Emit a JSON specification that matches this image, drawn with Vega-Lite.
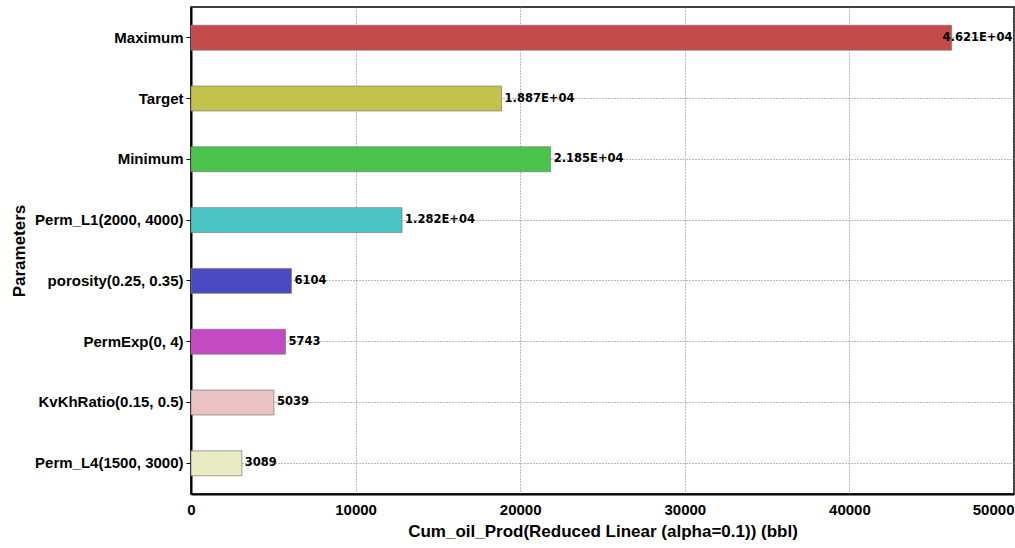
{
  "$schema": "https://vega.github.io/schema/vega-lite/v6.json",
  "width": 823,
  "height": 487,
  "autosize": "none",
  "padding": {"left": 191, "top": 7, "right": 1, "bottom": 54},
  "background": "white",
  "config": {
    "view": {"stroke": "black", "strokeWidth": 1.5},
    "font": "Liberation Sans"
  },
  "data": {
    "values": [
      {"param": "Maximum", "value": 46210, "label": "4.621E+04", "color": "#C44B4B"},
      {"param": "Target", "value": 18870, "label": "1.887E+04", "color": "#C3C24A"},
      {"param": "Minimum", "value": 21850, "label": "2.185E+04", "color": "#4AC34A"},
      {"param": "Perm_L1(2000, 4000)", "value": 12820, "label": "1.282E+04", "color": "#4AC3C3"},
      {"param": "porosity(0.25, 0.35)", "value": 6104, "label": "6104", "color": "#4A4AC3"},
      {"param": "PermExp(0, 4)", "value": 5743, "label": "5743", "color": "#C34AC3"},
      {"param": "KvKhRatio(0.15, 0.5)", "value": 5039, "label": "5039", "color": "#EBC3C3"},
      {"param": "Perm_L4(1500, 3000)", "value": 3089, "label": "3089", "color": "#EBEBC3"}
    ]
  },
  "encoding": {
    "y": {
      "field": "param",
      "type": "nominal",
      "sort": null,
      "scale": {"paddingInner": 0.59, "paddingOuter": 0.3},
      "axis": {
        "title": "Parameters",
        "titleFont": "Liberation Sans",
        "titleFontSize": 17,
        "titleFontWeight": "bold",
        "titleColor": "black",
        "titlePadding": 6,
        "labelFont": "Liberation Sans",
        "labelFontSize": 15,
        "labelFontWeight": "bold",
        "labelColor": "black",
        "labelPadding": 3,
        "tickSize": 5,
        "tickColor": "black",
        "tickBand": "center",
        "domainColor": "black",
        "domainWidth": 2,
        "grid": true,
        "gridColor": "#777777",
        "gridDash": [1, 2],
        "gridWidth": 1
      }
    },
    "x": {
      "field": "value",
      "type": "quantitative",
      "scale": {"domain": [0, 50000], "nice": false},
      "axis": {
        "title": "Cum_oil_Prod(Reduced Linear (alpha=0.1)) (bbl)",
        "titleFont": "Liberation Sans",
        "titleFontSize": 17,
        "titleFontWeight": "bold",
        "titleColor": "black",
        "titlePadding": 6,
        "values": [0, 10000, 20000, 30000, 40000, 50000],
        "format": "d",
        "labelFont": "Liberation Sans",
        "labelFontSize": 15,
        "labelFontWeight": "bold",
        "labelColor": "black",
        "labelPadding": 8,
        "labelAlign": {"condition": {"test": "datum.value == 50000", "value": "right"}, "value": "center"},
        "ticks": false,
        "domainColor": "black",
        "domainWidth": 2,
        "grid": true,
        "gridColor": "#777777",
        "gridDash": [1, 2],
        "gridWidth": 1
      }
    }
  },
  "layer": [
    {
      "mark": {"type": "bar", "stroke": "#7a7a7a", "strokeWidth": 1, "strokeOpacity": 0.7},
      "encoding": {
        "color": {"field": "color", "type": "nominal", "scale": null, "legend": null}
      }
    },
    {
      "transform": [{"filter": "datum.value < 40000"}],
      "mark": {"type": "text", "align": "left", "baseline": "middle", "dx": 3, "font": "DejaVu Sans", "fontSize": 11.5, "fontWeight": "bold", "color": "black"},
      "encoding": {"text": {"field": "label", "type": "nominal"}}
    },
    {
      "transform": [{"filter": "datum.value >= 40000"}],
      "mark": {"type": "text", "align": "left", "baseline": "middle", "dx": -9, "font": "DejaVu Sans", "fontSize": 11.5, "fontWeight": "bold", "color": "black"},
      "encoding": {"text": {"field": "label", "type": "nominal"}}
    }
  ]
}
